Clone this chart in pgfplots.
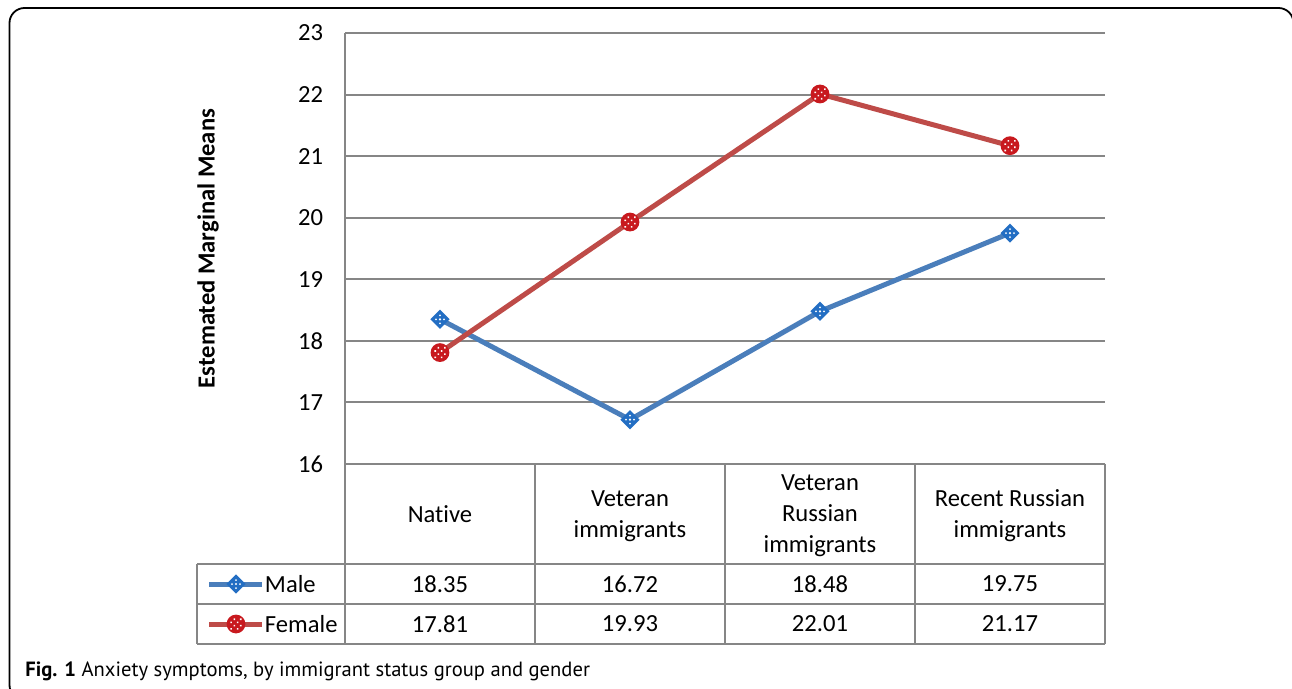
\documentclass[border=0pt]{standalone}
\usepackage{pgfplots}
\pgfplotsset{compat=1.18}
\usepackage{fontspec}
\setmainfont{Carlito}[Ligatures=NoCommon]
\newfontfamily\capfont{PT Sans}
\definecolor{gridgray}{RGB}{134,134,134}
\definecolor{maleblue}{RGB}{74,126,187}
\definecolor{femalered}{RGB}{190,75,72}
\definecolor{maledark}{RGB}{35,110,195}
\definecolor{femaledark}{RGB}{200,25,30}

\pgfdeclareplotmark{maled}{%
  \pgfpathmoveto{\pgfqpoint{0pt}{4.8pt}}%
  \pgfpathlineto{\pgfqpoint{4.8pt}{0pt}}%
  \pgfpathlineto{\pgfqpoint{0pt}{-4.8pt}}%
  \pgfpathlineto{\pgfqpoint{-4.8pt}{0pt}}%
  \pgfpathclose
  \pgfsetfillcolor{maledark}\pgfusepathqfill
  \pgfpathcircle{\pgfqpoint{0pt}{0pt}}{0.6pt}%
  \pgfpathcircle{\pgfqpoint{2.0pt}{0pt}}{0.5pt}%
  \pgfpathcircle{\pgfqpoint{-2.0pt}{0pt}}{0.5pt}%
  \pgfpathcircle{\pgfqpoint{0pt}{2.0pt}}{0.5pt}%
  \pgfpathcircle{\pgfqpoint{0pt}{-2.0pt}}{0.5pt}%
  \pgfsetfillcolor{white}\pgfusepathqfill
}
\pgfdeclareplotmark{femalec}{%
  \pgfpathcircle{\pgfpointorigin}{4.7pt}%
  \pgfsetfillcolor{femaledark}\pgfusepathqfill
  \pgfpathrectangle{\pgfqpoint{-2.8pt}{-2.8pt}}{\pgfqpoint{0.8pt}{0.8pt}}%
  \pgfpathrectangle{\pgfqpoint{0.4pt}{-2.8pt}}{\pgfqpoint{0.8pt}{0.8pt}}%
  \pgfpathrectangle{\pgfqpoint{-1.2pt}{-1.2pt}}{\pgfqpoint{0.8pt}{0.8pt}}%
  \pgfpathrectangle{\pgfqpoint{2.0pt}{-1.2pt}}{\pgfqpoint{0.8pt}{0.8pt}}%
  \pgfpathrectangle{\pgfqpoint{-2.8pt}{0.4pt}}{\pgfqpoint{0.8pt}{0.8pt}}%
  \pgfpathrectangle{\pgfqpoint{0.4pt}{0.4pt}}{\pgfqpoint{0.8pt}{0.8pt}}%
  \pgfpathrectangle{\pgfqpoint{-1.2pt}{2.0pt}}{\pgfqpoint{0.8pt}{0.8pt}}%
  \pgfpathrectangle{\pgfqpoint{2.0pt}{2.0pt}}{\pgfqpoint{0.8pt}{0.8pt}}%
  \pgfsetfillcolor{white}\pgfusepathqfill
}

\begin{document}
\begin{tikzpicture}
\useasboundingbox (0,0) rectangle (646pt,-344.5pt);
\begin{scope}[x=0.5pt,y=-0.5pt]
\draw[line width=0.9pt, rounded corners=7.5pt] (9.5,8) rectangle (1293.5,700);
\end{scope}
\begin{axis}[
  at={(172.5pt,-232pt)}, anchor=south west,
  scale only axis, width=380pt, height=215.5pt,
  xmin=0, xmax=4, ymin=16, ymax=23,
  ytick={16,17,...,23},
  xtick={0.5,1.5,2.5,3.5},
  xticklabels={Native, Veteran\\immigrants, Veteran\\Russian\\immigrants, Recent Russian\\immigrants},
  xticklabel style={anchor=center, align=center, text depth=0pt, yshift=-25pt, font=\fontsize{12.3}{15.5}\selectfont},
  yticklabel style={xshift=-7.4pt, font=\fontsize{12.3}{15}\selectfont},
  /pgf/number format/assume math mode=true,
  major tick length=0pt,
  tick style={draw=none},
  axis line style={draw=none},
  ymajorgrids,
  grid style={gridgray, line width=1pt},
  ylabel={\bfseries Estemated Marginal Means},
  ylabel style={at={(rel axis cs:-0.1803,0.5)}, anchor=center, font=\fontsize{12.3}{15}\selectfont},
  legend style={at={(rel axis cs:-0.18158,-0.23202)}, anchor=north west, draw=none, fill=none,
    inner sep=0pt, outer sep=0pt, row sep=0pt, column sep=0pt,
    font=\fontsize{12.3}{15}\selectfont,
    nodes={inner sep=0pt, text height=14pt, text depth=6pt}},
  legend cell align=left,
  legend image code/.code={\draw[mark repeat=2,mark phase=2,#1] plot coordinates {(0pt,0pt)(13.25pt,0pt)(26.5pt,0pt)};},
  clip=false,
]
\addplot[maleblue, line width=2.5pt, mark=maled] coordinates {(0.5,18.35) (1.5,16.72) (2.5,18.48) (3.5,19.75)};
\addlegendentry{Male}
\addplot[femalered, line width=2.5pt, mark=femalec] coordinates {(0.5,17.81) (1.5,19.93) (2.5,22.01) (3.5,21.17)};
\addlegendentry{Female}
\end{axis}
\begin{scope}[x=0.5pt,y=-0.5pt]
\begin{scope}[draw=gridgray, line width=1pt]
\draw (345,33) -- (345,644);
\draw (345,464) -- (1105,464);
\draw (197,564) -- (1105,564);
\draw (197,604) -- (1105,604);
\draw (197,644) -- (1105,644);
\draw (197,564) -- (197,644);
\foreach \x in {535,725,915,1105} \draw (\x,464) -- (\x,644);
\end{scope}
\begin{scope}[every node/.style={font=\fontsize{12.3}{15}\selectfont, inner sep=0pt}]
\node at (440,584) {18.35};
\node at (630,584) {16.72};
\node at (820,584) {18.48};
\node at (1010,584) {19.75};
\node at (440,624) {17.81};
\node at (630,624) {19.93};
\node at (820,624) {22.01};
\node at (1010,624) {21.17};
\end{scope}
\node[anchor=base west, inner sep=0pt] at (25,677) {\capfont\fontsize{10.3}{12}\selectfont\textbf{Fig. 1} Anxiety symptoms, by immigrant status group and gender};
\end{scope}
\end{tikzpicture}
\end{document}
